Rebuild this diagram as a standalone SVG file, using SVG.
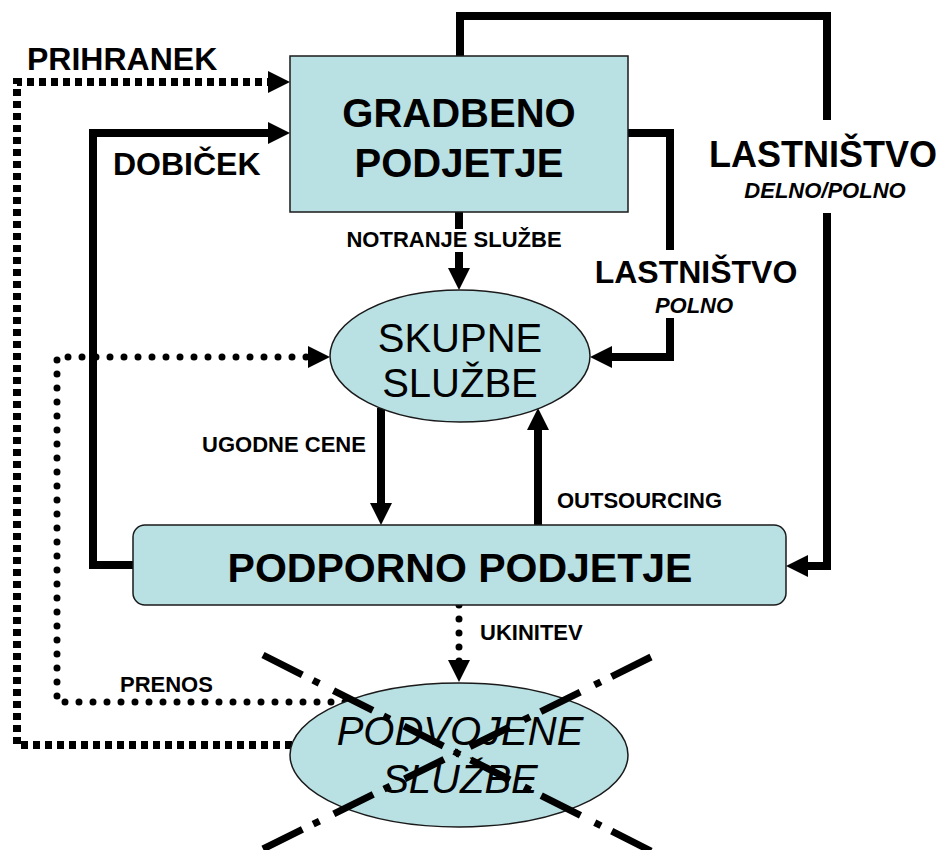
<svg xmlns="http://www.w3.org/2000/svg" width="943" height="850" viewBox="0 0 943 850">
  <style>
    .node { fill: #b9e0e3; stroke: #1a1a1a; stroke-width: 1.5; }
    .line { fill: none; stroke: #000; stroke-width: 8; }
    .square { stroke-dasharray: 7 5; }
    .dots { stroke-width: 7; stroke-dasharray: 0 14; stroke-linecap: round; }
    .cross { fill: none; stroke: #000; stroke-width: 7; stroke-dasharray: 44 12 7 16; }
    text { font-family: "Liberation Sans", Arial, sans-serif; fill: #000; }
    .b { font-weight: bold; }
    .i { font-style: italic; }
    .mid { text-anchor: middle; }
  </style>
  <defs>
    <marker id="arrow" viewBox="0 0 22 22" markerWidth="22" markerHeight="22" refX="8" refY="11" orient="auto" markerUnits="userSpaceOnUse">
      <path d="M0,0 L22,11 L0,22 z" fill="#000"/>
    </marker>
  </defs>

  <rect width="943" height="850" fill="#fff"/>

  <!-- connectors -->
  <g id="connectors">
    <!-- prihranek: from doubled services back to the construction company -->
    <path class="line square" d="M292,745 H17 V82 H276" marker-end="url(#arrow)"/>
    <!-- dobiček -->
    <path class="line" d="M133,565 H93 V133 H276" marker-end="url(#arrow)"/>
    <!-- lastništvo delno/polno -->
    <path class="line" d="M460,56 V16 H827 V120 M827,213 V566 H800" marker-end="url(#arrow)"/>
    <!-- lastništvo polno -->
    <path class="line" d="M628,133 H670 V250 M670,318 V357 H604" marker-end="url(#arrow)"/>
    <!-- notranje službe -->
    <path class="line" d="M459,212 V229 M459,252 V276" marker-end="url(#arrow)"/>
    <!-- ugodne cene -->
    <path class="line" d="M381,408 V511" marker-end="url(#arrow)"/>
    <!-- outsourcing -->
    <path class="line" d="M538,525 V422" marker-end="url(#arrow)"/>
    <!-- prenos -->
    <path class="line dots" d="M345,702 H57 V357 H316" marker-end="url(#arrow)"/>
    <!-- ukinitev -->
    <path class="line dots" d="M459,605 V668" marker-end="url(#arrow)"/>
  </g>

  <!-- connector labels -->
  <g id="labels">
    <text class="b" x="27" y="70" font-size="32">PRIHRANEK</text>
    <text class="b" x="113" y="175" font-size="32">DOBIČEK</text>
    <text class="b mid" x="454" y="247" font-size="22">NOTRANJE SLUŽBE</text>
    <text class="b mid" x="823" y="167" font-size="36">LASTNIŠTVO</text>
    <text class="b i mid" x="825" y="198" font-size="22">DELNO/POLNO</text>
    <text class="b mid" x="696" y="283" font-size="32">LASTNIŠTVO</text>
    <text class="b i mid" x="694" y="313" font-size="22">POLNO</text>
    <text class="b mid" x="284" y="452" font-size="22">UGODNE CENE</text>
    <text class="b" x="557" y="508" font-size="22">OUTSOURCING</text>
    <text class="b" x="480" y="640" font-size="22">UKINITEV</text>
    <text class="b" x="120" y="692" font-size="22">PRENOS</text>
  </g>

  <g id="gradbeno-podjetje">
    <rect class="node" x="290" y="56" width="338" height="156"/>
    <text class="b mid" x="459" y="127" font-size="40">GRADBENO</text>
    <text class="b mid" x="459" y="177" font-size="40">PODJETJE</text>
  </g>

  <g id="skupne-sluzbe">
    <ellipse class="node" cx="460" cy="356" rx="130" ry="66"/>
    <text class="mid" x="460" y="352" font-size="40">SKUPNE</text>
    <text class="mid" x="460" y="397" font-size="40">SLUŽBE</text>
  </g>

  <g id="podporno-podjetje">
    <rect class="node" x="133" y="525" width="653" height="80" rx="12"/>
    <text class="b mid" x="460" y="582" font-size="41">PODPORNO PODJETJE</text>
  </g>

  <g id="podvojene-sluzbe">
    <ellipse class="node" cx="459" cy="755" rx="169" ry="72"/>
    <text class="i mid" x="460" y="745" font-size="40">PODVOJENE</text>
    <text class="i mid" x="460" y="793" font-size="40">SLUŽBE</text>
    <!-- crossed out: each stroke is drawn from both ends towards the centre so the dash-dot pattern stays symmetric -->
    <path class="cross" d="M263,655 L457,753 M651,851 L457,753"/>
    <path class="cross" d="M651,657 L457,753 M263,849 L457,753"/>
  </g>
</svg>
